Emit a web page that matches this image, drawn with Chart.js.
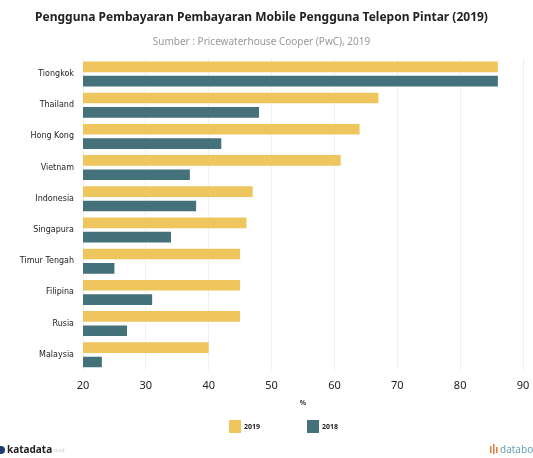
<!DOCTYPE html>
<html>
<head>
<meta charset="utf-8">
<title>Pengguna Pembayaran Mobile</title>
<script src="https://cdn.jsdelivr.net/npm/chart.js@4.4.0/dist/chart.umd.min.js"></script>
<style>
  html, body { margin: 0; padding: 0; background: #fff; }
  #wrap { width: 533px; height: 458px; }
</style>
</head>
<body>
<div id="wrap"><canvas id="chart"></canvas></div>
<script>
// Countries and survey results (%)
const countries = ['Tiongkok', 'Thailand', 'Hong Kong', 'Vietnam', 'Indonesia', 'Singapura', 'Timur Tengah', 'Filipina', 'Rusia', 'Malaysia'];
const values2019 = [86, 67, 64, 61, 47, 46, 45, 45, 45, 40];
const values2018 = [86, 48, 42, 37, 38, 34, 25, 31, 27, 23];
const xTicks = [20, 30, 40, 50, 60, 70, 80, 90];

const FONT = '"Noto Sans", "DejaVu Sans", sans-serif';

// legend squares under the axis title, plus the logos in the footer
const footerPlugin = {
    id: 'footer',
    afterDraw(chart) {
        const ctx = chart.ctx;
        const h = chart.height;
        ctx.save();
        ctx.textBaseline = 'middle';

        const legendX = [229, 307];
        chart.data.datasets.forEach((ds, i) => {
            ctx.fillStyle = ds.backgroundColor;
            ctx.fillRect(legendX[i], 420, 12, 13);
            ctx.fillStyle = '#222';
            ctx.font = 'bold 7px ' + FONT;
            ctx.textAlign = 'left';
            ctx.fillText(ds.label, legendX[i] + 15, 427);
        });

        // katadata mark
        ctx.fillStyle = '#1d3c6e';
        ctx.beginPath();
        ctx.arc(1, h - 8, 4, 0, Math.PI * 2);
        ctx.fill();
        ctx.fillStyle = '#222';
        ctx.font = 'bold 10px ' + FONT;
        ctx.fillText('katadata', 7, h - 8);
        ctx.fillStyle = '#c8cdd3';
        ctx.font = '5px ' + FONT;
        ctx.fillText('.co.id', 52, h - 7);
        // databoks mark
        ctx.fillStyle = '#e07a3c';
        ctx.fillRect(490, h - 12, 1.5, 7);
        ctx.fillRect(493, h - 14, 1.5, 10);
        ctx.fillRect(496, h - 11, 1.5, 6);
        ctx.fillStyle = '#6a9fb3';
        ctx.font = '10px ' + FONT;
        ctx.fillText('databoks', 500, h - 8);
        ctx.restore();
    }
};

new Chart(document.getElementById('chart'), {
    type: 'bar',
    data: {
        labels: countries,
        datasets: [
            {
                label: '2019',
                data: values2019,
                backgroundColor: '#eec65d',
                categoryPercentage: 0.92,
                barPercentage: 0.74
            },
            {
                label: '2018',
                data: values2018,
                backgroundColor: '#45717b',
                categoryPercentage: 0.92,
                barPercentage: 0.74
            }
        ]
    },
    options: {
        indexAxis: 'y',
        responsive: true,
        maintainAspectRatio: false,
        animation: false,
        layout: { padding: { left: 0, right: 10, top: 0, bottom: 51 } },
        scales: {
            x: {
                min: 20,
                max: 90,
                afterBuildTicks: axis => { axis.ticks = xTicks.map(v => ({ value: v })); },
                // let the last tick label hang past the plot edge
                afterFit: axis => { axis.paddingRight = 0; },
                grid: { color: '#f0f0f0', drawTicks: false },
                border: { display: false },
                ticks: { color: '#222', font: { family: FONT, size: 11 }, padding: 9 },
                title: { display: true, text: '%', color: '#333', font: { family: FONT, size: 7, weight: 'bold' }, padding: { top: -3, bottom: 0 } }
            },
            y: {
                // fixed label column so the bars start at the same place
                afterFit: axis => { axis.width = 83; },
                grid: { display: false, drawTicks: false },
                border: { display: false },
                ticks: { color: '#222', font: { family: '"DejaVu Sans", sans-serif', size: 8 }, padding: 9 }
            }
        },
        plugins: {
            title: {
                display: true,
                text: 'Pengguna Pembayaran Pembayaran Mobile Pengguna Telepon Pintar (2019)',
                color: '#222',
                font: { family: FONT, size: 12, weight: 'bold' },
                padding: { top: 10, bottom: 12 }
            },
            subtitle: {
                display: true,
                text: 'Sumber : Pricewaterhouse Cooper (PwC), 2019',
                color: '#999',
                font: { family: FONT, size: 10 },
                padding: { bottom: 10 }
            },
            legend: { display: false },
            tooltip: { enabled: false }
        }
    },
    plugins: [footerPlugin]
});
</script>
</body>
</html>
